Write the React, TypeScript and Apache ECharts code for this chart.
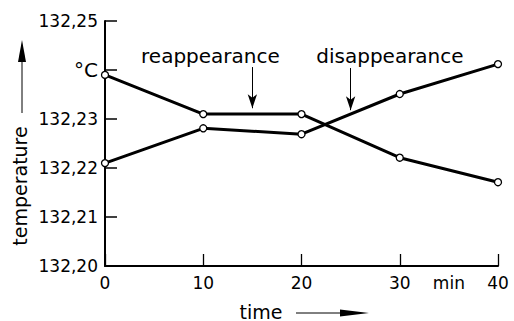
import React, { useEffect, useRef } from "react";
import * as echarts from "echarts";

const times = [0, 10, 20, 30, 40];
const descending = [132.239, 132.231, 132.231, 132.2221, 132.2171];
const ascending = [132.221, 132.2281, 132.2269, 132.2351, 132.2412];
const yTicks = ["132,20", "132,21", "132,22", "132,23", "°C", "132,25"];
const annotations = [
  { name: "reappearance", labelAt: [10.73, 132.2429], arrowX: 15, arrowFrom: 132.2406, arrowTo: 132.2322 },
  { name: "disappearance", labelAt: [29.0, 132.2429], arrowX: 25, arrowFrom: 132.2404, arrowTo: 132.2318 },
];

const FONT = "DejaVu Sans";

export default function App() {
  const ref = useRef<HTMLDivElement>(null);
  useEffect(() => {
    if (!ref.current) return;
    const chart = echarts.init(ref.current, undefined, { renderer: "svg" });
    const lineSeries = (vals: number[], extra: any = {}) => ({
      type: "line",
      data: times.map((t, i) => [t, vals[i]]),
      symbol: "circle",
      symbolSize: 7,
      showSymbol: true,
      lineStyle: { color: "#000", width: 3 },
      itemStyle: { color: "#fff", borderColor: "#000", borderWidth: 1.3 },
      z: 3,
      ...extra,
    });
    chart.setOption({
      animation: false,
      backgroundColor: "#fff",
      grid: { left: 105, right: 16, top: 21, bottom: 55, outerBoundsMode: "none", containLabel: false },
      xAxis: {
        type: "value",
        min: 0,
        max: 40,
        interval: 10,
        axisLine: { show: true, lineStyle: { color: "#000", width: 2 } },
        axisTick: { show: true, inside: true, length: 12, lineStyle: { color: "#000", width: 1.3 }, customValues: times },
        axisLabel: {
          customValues: [0, 10, 20, 30, 35, 40],
          formatter: (v: number) => (v === 35 ? "min" : String(v)),
          color: "#000",
          fontFamily: FONT,
          fontSize: 17,
          margin: 8,
        },
        splitLine: { show: false },
      },
      yAxis: {
        type: "value",
        min: 132.2,
        max: 132.25,
        interval: 0.01,
        axisLine: { show: true, lineStyle: { color: "#000", width: 2 } },
        axisTick: { show: true, inside: true, length: 12, lineStyle: { color: "#000", width: 1.5 } },
        axisLabel: {
          formatter: (v: number) => {
            const t = yTicks[Math.round((v - 132.2) * 100)] ?? "";
            return t === "°C" ? "{u|°C}" : t;
          },
          color: "#000",
          fontFamily: FONT,
          fontSize: 17,
          margin: 7,
          rich: { u: { fontFamily: FONT, fontSize: 20, color: "#000" } },
        },
        splitLine: { show: false },
      },
      graphic: [
        {
          type: "text",
          x: 20,
          y: 186,
          rotation: Math.PI / 2,
          style: { text: "temperature", fill: "#000", font: `19px "${FONT}"`, align: "center", verticalAlign: "middle" },
        },
        { type: "line", shape: { x1: 22, y1: 113, x2: 22, y2: 58 }, style: { stroke: "#000", lineWidth: 1 } },
        { type: "polygon", shape: { points: [[22, 40], [18, 62], [26, 62]] }, style: { fill: "#000" } },
        {
          type: "text",
          x: 261,
          y: 321,
          style: { text: "time", fill: "#000", font: `19px "${FONT}"`, align: "center", verticalAlign: "bottom" },
        },
        { type: "line", shape: { x1: 296, y1: 313, x2: 345, y2: 313 }, style: { stroke: "#000", lineWidth: 1 } },
        { type: "polygon", shape: { points: [[369, 313], [340, 309.5], [340, 316.5]] }, style: { fill: "#000" } },
      ],
      series: [
        lineSeries(descending, {
          markLine: {
            silent: true,
            symbol: ["none", "arrow"],
            symbolSize: [7, 14],
            lineStyle: { color: "#000", width: 1, type: "solid" },
            label: { show: false },
            data: annotations.map((a) => [
              { coord: [a.arrowX, a.arrowFrom] },
              { coord: [a.arrowX, a.arrowTo] },
            ]),
          },
          markPoint: {
            silent: true,
            symbol: "rect",
            symbolSize: 1,
            itemStyle: { color: "rgba(0,0,0,0)" },
            label: {
              show: true,
              position: "inside",
              color: "#000",
              fontFamily: FONT,
              fontSize: 20,
              formatter: (p: any) => p.name,
            },
            data: annotations.map((a) => ({ name: a.name, coord: a.labelAt })),
          },
        }),
        lineSeries(ascending),
      ],
    });
    return () => chart.dispose();
  }, []);
  return <div ref={ref} style={{ position: "absolute", left: 0, top: 0, width: 514, height: 321 }} />;
}
